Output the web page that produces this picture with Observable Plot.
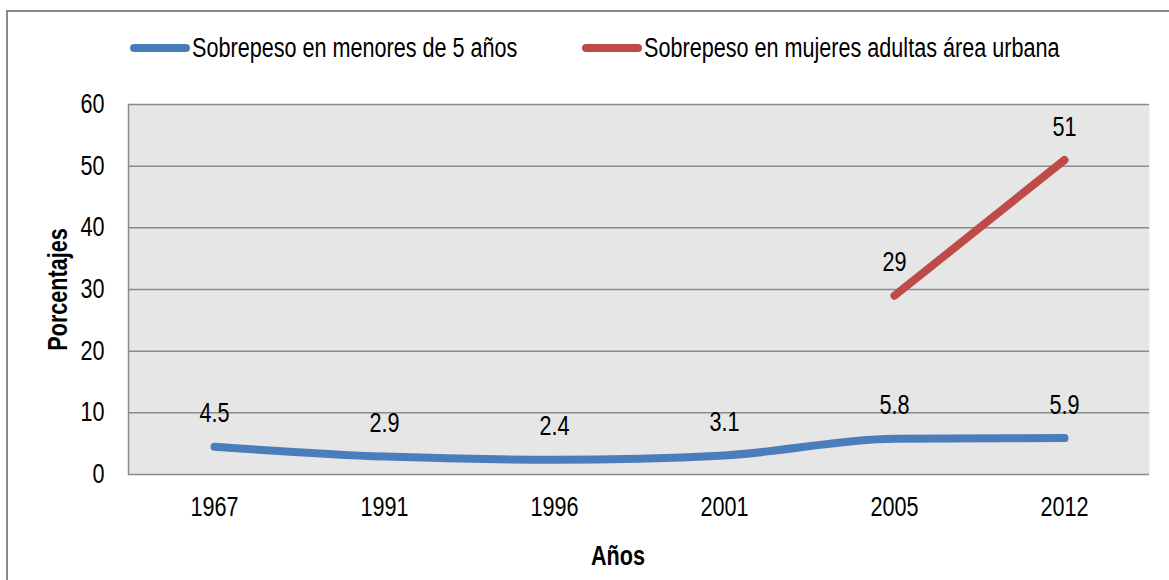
<!DOCTYPE html>
<html>
<head>
<meta charset="utf-8">
<script src="https://cdn.jsdelivr.net/npm/d3@7"></script>
<script src="https://cdn.jsdelivr.net/npm/@observablehq/plot@0.6"></script>
<style>
  html, body { margin: 0; padding: 0; background: #fff; }
  #wrap { position: relative; width: 1169px; height: 580px; overflow: hidden;
          font-family: "Liberation Sans", Arial, sans-serif; }
  #border { position: absolute; left: 6px; top: 10px; width: 1400px; height: 800px;
            border-left: 2px solid #8a8a8a; border-top: 2px solid #8a8a8a; }
  .item { position: absolute; top: 32px; height: 32px; display: flex; align-items: center;
          font-size: 27px; color: #000; white-space: nowrap; }
  .sw { display: inline-block; width: 60px; height: 8px; border-radius: 4px; margin-right: 2px; flex: none; }
  .lab { display: inline-block; transform: scaleX(0.8); transform-origin: 0 50%; }
  #chart { position: absolute; left: 0; top: 0; }
</style>
</head>
<body>
<div id="wrap">
  <div id="border"></div>
  <div id="chart"></div>
  <div id="legend"></div>
</div>
<script>
// Data
const years = ["1967", "1991", "1996", "2001", "2005", "2012"];
const menores5 = [4.5, 2.9, 2.4, 3.1, 5.8, 5.9];
const mujeresYears = ["2005", "2012"];
const mujeresUrbana = [29, 51];
const yTicks = [0, 10, 20, 30, 40, 50, 60];
const seriesNames = ["Sobrepeso en menores de 5 años", "Sobrepeso en mujeres adultas área urbana"];
const seriesColors = ["#4a7ebb", "#be4b48"];
const xTitle = "Años";
const yTitle = "Porcentajes";

const blue = years.map((y, i) => ({year: y, value: menores5[i]}));
const red = mujeresYears.map((y, i) => ({year: y, value: mujeresUrbana[i]}));

const font = '"Liberation Sans", Arial, sans-serif';
const narrow = 0.8; // emulate Arial Narrow
const fs = 27;

const plot = Plot.plot({
  width: 1169,
  height: 580,
  marginLeft: 128,
  marginRight: 20,
  marginTop: 104,
  marginBottom: 106,
  style: {fontFamily: font, fontSize: fs + "px", color: "#000", background: "transparent", overflow: "visible"},
  x: {type: "point", domain: years, padding: 0.5},
  y: {domain: [0, 60]},
  marks: [
    Plot.frame({fill: "#e6e6e6", stroke: null}),
    Plot.gridY(yTicks, {stroke: "#8a8a8a", strokeOpacity: 1, strokeWidth: 1.5}),
    Plot.frame({anchor: "left", stroke: "#8a8a8a", strokeWidth: 1.5}),
    Plot.axisY(yTicks, {tickSize: 0, tickPadding: 24, label: null, fontSize: fs}),
    Plot.axisX({tickSize: 0, tickPadding: 22, label: null, fontSize: fs}),
    Plot.line(blue, {x: "year", y: "value", stroke: seriesColors[0], strokeWidth: 8,
      strokeLinecap: "round", strokeLinejoin: "round", curve: "monotone-x"}),
    Plot.line(red, {x: "year", y: "value", stroke: seriesColors[1], strokeWidth: 8,
      strokeLinecap: "round", strokeLinejoin: "round"}),
    Plot.text(blue, {x: "year", y: "value", text: d => String(d.value), dy: -33, fontSize: fs, fill: "#000"}),
    Plot.text(red, {x: "year", y: "value", text: d => String(d.value), dy: -33, fontSize: fs, fill: "#000"}),
    Plot.text([yTitle], {text: d => d, frameAnchor: "left", textAnchor: "middle", lineAnchor: "middle",
      dx: -70, rotate: -90, fontWeight: "bold", fontSize: fs, fill: "#000"}),
    Plot.text([xTitle], {text: d => d, frameAnchor: "bottom", dx: -21, dy: 90, fontWeight: "bold", fontSize: fs, fill: "#000"})
  ]
});

// Condense every text horizontally around its own anchor (Arial Narrow look)
plot.querySelectorAll("text").forEach(t => {
  const x = +(t.getAttribute("x") || 0);
  const tr = t.getAttribute("transform") || "";
  const sc = x ? `translate(${x},0) scale(${narrow},1) translate(${-x},0)` : `scale(${narrow},1)`;
  t.setAttribute("transform", (tr + " " + sc).trim());
});
document.getElementById("chart").appendChild(plot);

const legendLefts = [130, 582];
const legend = document.getElementById("legend");
seriesNames.forEach((name, i) => {
  const item = document.createElement("div");
  item.className = "item";
  item.style.left = legendLefts[i] + "px";
  const sw = document.createElement("span");
  sw.className = "sw";
  sw.style.background = seriesColors[i];
  const label = document.createElement("span");
  label.className = "lab";
  label.textContent = name;
  item.appendChild(sw);
  item.appendChild(label);
  legend.appendChild(item);
});
</script>
</body>
</html>
